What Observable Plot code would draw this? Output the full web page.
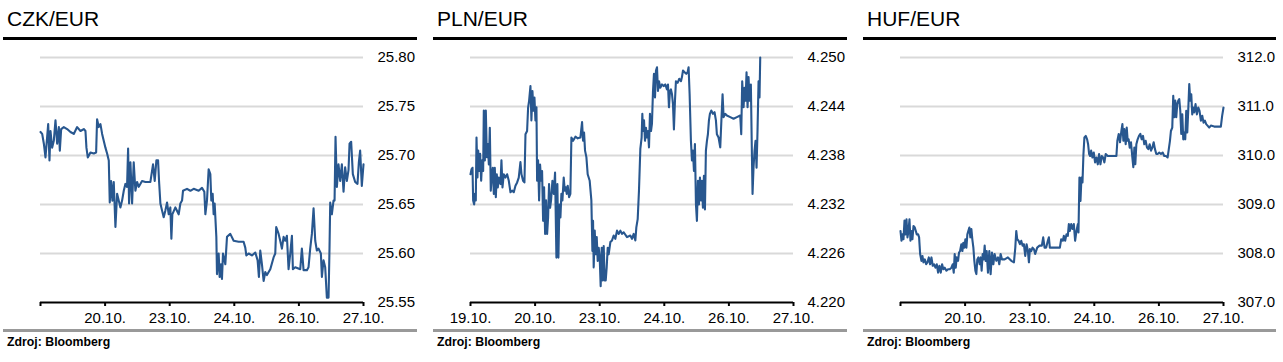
<!DOCTYPE html>
<html>
<head>
<meta charset="utf-8">
<script src="https://cdn.jsdelivr.net/npm/d3@7"></script>
<script src="https://cdn.jsdelivr.net/npm/@observablehq/plot@0.6"></script>
<style>
  html, body { margin: 0; padding: 0; background: #fff; }
  body { width: 1283px; height: 362px; position: relative; overflow: hidden;
         font-family: "Liberation Sans", Arial, Helvetica, sans-serif; color: #000; }
  .panel { position: absolute; top: 0; height: 362px; }
  .title { position: absolute; left: 4px; top: 8px; font-size: 21px; line-height: 21px; white-space: nowrap; }
  .topbar { position: absolute; left: 0; top: 37px; height: 3px; background: #000; }
  .chart { position: absolute; left: 0; top: 40px; }
  .botbar { position: absolute; left: 0; top: 328.5px; height: 3px; background: #999; }
  .source { position: absolute; left: 4px; top: 335px; font-size: 12.3px; font-weight: bold; line-height: 14px; white-space: nowrap; }
</style>
</head>
<body>
<script>
// ---- tick labels (trading days) ----
const dayLabelsFull = ["19.10.", "20.10.", "23.10.", "24.10.", "26.10.", "27.10."];
const dayLabelsNoFirst = ["", "20.10.", "23.10.", "24.10.", "26.10.", "27.10."];

// ---- CZK/EUR ----
const czkTicks = [25.55, 25.60, 25.65, 25.70, 25.75, 25.80];
const czkT = [0.000,0.026,0.052,0.077,0.103,0.119,0.139,0.155,0.180,0.206,0.232,0.258,0.284,0.299,0.320,0.361,0.412,0.464,0.515,0.567,0.619,0.670,0.696,0.711,0.732,0.773,0.825,0.861,0.876,0.902,0.928,0.954,0.979,1.005,1.031,1.057,1.072,1.093,1.113,1.134,1.160,1.186,1.211,1.237,1.263,1.289,1.314,1.340,1.356,1.371,1.392,1.418,1.443,1.469,1.495,1.521,1.572,1.624,1.701,1.742,1.768,1.794,1.820,1.835,1.856,1.881,1.907,1.933,1.959,1.985,2.010,2.026,2.041,2.088,2.139,2.165,2.191,2.206,2.268,2.320,2.371,2.448,2.500,2.536,2.552,2.577,2.603,2.629,2.644,2.665,2.680,2.696,2.722,2.732,2.758,2.773,2.794,2.809,2.825,2.861,2.887,2.938,2.990,3.067,3.144,3.170,3.186,3.222,3.273,3.325,3.361,3.381,3.402,3.428,3.454,3.479,3.505,3.557,3.608,3.634,3.649,3.686,3.711,3.737,3.763,3.789,3.814,3.840,3.866,3.892,3.907,3.943,4.021,4.046,4.072,4.124,4.149,4.175,4.201,4.227,4.253,4.278,4.304,4.340,4.356,4.381,4.407,4.433,4.459,4.474,4.485,4.510,4.536,4.552,4.567,4.588,4.613,4.639,4.665,4.691,4.716,4.742,4.768,4.784,4.809,4.835,4.871,4.907,4.928,4.948,4.974,5.000];
const czkV = [25.724,25.722,25.712,25.698,25.719,25.732,25.695,25.725,25.708,25.715,25.736,25.712,25.729,25.705,25.727,25.729,25.727,25.724,25.722,25.729,25.725,25.727,25.725,25.708,25.698,25.703,25.702,25.703,25.737,25.729,25.732,25.722,25.715,25.708,25.702,25.695,25.652,25.674,25.654,25.673,25.627,25.661,25.654,25.647,25.654,25.664,25.671,25.668,25.707,25.651,25.693,25.651,25.693,25.664,25.673,25.668,25.674,25.673,25.673,25.691,25.674,25.695,25.695,25.674,25.651,25.644,25.637,25.644,25.652,25.640,25.647,25.615,25.640,25.647,25.640,25.651,25.654,25.664,25.666,25.664,25.666,25.664,25.667,25.663,25.640,25.654,25.686,25.681,25.654,25.661,25.640,25.651,25.617,25.579,25.600,25.576,25.589,25.574,25.600,25.589,25.617,25.620,25.613,25.612,25.612,25.606,25.598,25.600,25.598,25.601,25.593,25.576,25.603,25.589,25.572,25.581,25.578,25.584,25.596,25.600,25.627,25.620,25.613,25.605,25.617,25.613,25.618,25.584,25.600,25.618,25.584,25.586,25.584,25.605,25.583,25.583,25.586,25.605,25.620,25.646,25.613,25.603,25.605,25.600,25.576,25.593,25.586,25.555,25.555,25.606,25.652,25.640,25.654,25.654,25.719,25.668,25.691,25.674,25.691,25.663,25.688,25.674,25.685,25.712,25.714,25.681,25.673,25.671,25.693,25.705,25.669,25.691];

// ---- PLN/EUR ----
const plnTicks = [4.220, 4.226, 4.232, 4.238, 4.244, 4.250];
const plnT = [0.000,0.015,0.031,0.041,0.057,0.067,0.082,0.093,0.108,0.119,0.134,0.149,0.165,0.180,0.196,0.206,0.222,0.237,0.253,0.268,0.284,0.299,0.314,0.330,0.345,0.361,0.376,0.392,0.407,0.423,0.438,0.464,0.479,0.495,0.515,0.541,0.567,0.593,0.619,0.644,0.670,0.696,0.722,0.747,0.773,0.789,0.814,0.835,0.851,0.876,0.892,0.907,0.928,0.943,0.959,0.974,0.990,1.005,1.021,1.031,1.046,1.062,1.077,1.093,1.108,1.124,1.139,1.155,1.170,1.186,1.201,1.216,1.232,1.247,1.268,1.289,1.309,1.330,1.345,1.361,1.376,1.392,1.407,1.423,1.443,1.459,1.474,1.490,1.505,1.526,1.546,1.562,1.588,1.624,1.660,1.701,1.727,1.742,1.758,1.773,1.794,1.814,1.845,1.871,1.887,1.897,1.907,1.923,1.938,1.954,1.969,1.985,2.000,2.015,2.031,2.046,2.062,2.077,2.093,2.108,2.124,2.139,2.165,2.191,2.216,2.242,2.268,2.294,2.320,2.345,2.371,2.423,2.474,2.500,2.526,2.552,2.567,2.588,2.608,2.629,2.649,2.660,2.670,2.686,2.701,2.716,2.732,2.747,2.763,2.778,2.794,2.809,2.825,2.840,2.856,2.871,2.887,2.902,2.918,2.938,2.964,2.990,3.015,3.041,3.057,3.072,3.088,3.103,3.119,3.134,3.149,3.165,3.180,3.206,3.232,3.258,3.273,3.289,3.314,3.340,3.361,3.376,3.392,3.412,3.428,3.443,3.459,3.474,3.490,3.505,3.521,3.536,3.552,3.567,3.582,3.598,3.613,3.629,3.644,3.660,3.675,3.691,3.706,3.727,3.753,3.778,3.799,3.814,3.840,3.866,3.887,3.902,3.918,3.943,3.969,4.021,4.072,4.124,4.175,4.191,4.206,4.227,4.242,4.258,4.273,4.289,4.304,4.320,4.340,4.356,4.366,4.381,4.397,4.412,4.428,4.443,4.459,4.474,4.485];
const plnV = [4.2357,4.2363,4.2365,4.2325,4.2320,4.2333,4.2325,4.2402,4.2353,4.2386,4.2361,4.2382,4.2349,4.2374,4.2361,4.2435,4.2374,4.2435,4.2378,4.2394,4.2369,4.2414,4.2337,4.2357,4.2365,4.2333,4.2365,4.2329,4.2357,4.2341,4.2353,4.2345,4.2374,4.2341,4.2357,4.2353,4.2357,4.2349,4.2335,4.2337,4.2335,4.2343,4.2347,4.2353,4.2372,4.2357,4.2349,4.2347,4.2406,4.2410,4.2439,4.2447,4.2465,4.2423,4.2459,4.2435,4.2451,4.2423,4.2439,4.2349,4.2374,4.2325,4.2369,4.2349,4.2361,4.2300,4.2341,4.2284,4.2325,4.2284,4.2304,4.2345,4.2316,4.2325,4.2349,4.2333,4.2359,4.2255,4.2345,4.2255,4.2320,4.2304,4.2333,4.2325,4.2353,4.2337,4.2341,4.2333,4.2343,4.2329,4.2333,4.2402,4.2398,4.2403,4.2401,4.2402,4.2421,4.2398,4.2408,4.2386,4.2378,4.2357,4.2349,4.2325,4.2263,4.2300,4.2243,4.2288,4.2259,4.2280,4.2251,4.2267,4.2255,4.2220,4.2267,4.2227,4.2269,4.2227,4.2227,4.2243,4.2267,4.2259,4.2274,4.2276,4.2282,4.2278,4.2288,4.2284,4.2288,4.2284,4.2286,4.2280,4.2282,4.2278,4.2284,4.2276,4.2292,4.2302,4.2337,4.2388,4.2402,4.2431,4.2410,4.2423,4.2398,4.2414,4.2402,4.2410,4.2390,4.2431,4.2410,4.2419,4.2459,4.2480,4.2451,4.2484,4.2488,4.2459,4.2471,4.2463,4.2467,4.2465,4.2467,4.2461,4.2467,4.2439,4.2459,4.2461,4.2455,4.2443,4.2412,4.2447,4.2471,4.2469,4.2474,4.2471,4.2476,4.2484,4.2482,4.2480,4.2482,4.2488,4.2455,4.2398,4.2374,4.2386,4.2361,4.2394,4.2320,4.2300,4.2349,4.2320,4.2353,4.2325,4.2349,4.2316,4.2355,4.2314,4.2386,4.2398,4.2406,4.2423,4.2431,4.2435,4.2431,4.2433,4.2423,4.2406,4.2402,4.2390,4.2429,4.2455,4.2427,4.2431,4.2429,4.2427,4.2425,4.2427,4.2429,4.2406,4.2471,4.2439,4.2463,4.2447,4.2482,4.2439,4.2476,4.2447,4.2467,4.2382,4.2333,4.2365,4.2386,4.2398,4.2365,4.2410,4.2471,4.2451,4.2500];

// ---- HUF/EUR ----
const hufTicks = [307, 308, 309, 310, 311, 312];
const hufT = [0.000,0.015,0.031,0.046,0.062,0.077,0.093,0.108,0.124,0.139,0.154,0.170,0.185,0.201,0.221,0.237,0.252,0.273,0.288,0.304,0.324,0.340,0.355,0.376,0.397,0.417,0.438,0.458,0.479,0.499,0.520,0.541,0.561,0.582,0.602,0.623,0.644,0.664,0.685,0.711,0.736,0.762,0.788,0.808,0.824,0.839,0.855,0.870,0.891,0.906,0.922,0.942,0.958,0.973,0.989,1.004,1.020,1.035,1.050,1.066,1.081,1.097,1.112,1.128,1.143,1.159,1.174,1.189,1.205,1.226,1.241,1.256,1.272,1.287,1.303,1.318,1.334,1.354,1.375,1.395,1.416,1.437,1.457,1.483,1.509,1.529,1.550,1.571,1.612,1.663,1.715,1.756,1.777,1.792,1.807,1.828,1.849,1.869,1.890,1.910,1.931,1.952,1.972,1.988,2.003,2.024,2.044,2.065,2.085,2.116,2.152,2.188,2.209,2.230,2.255,2.281,2.297,2.312,2.358,2.436,2.467,2.487,2.513,2.528,2.549,2.569,2.590,2.606,2.621,2.642,2.662,2.683,2.703,2.724,2.745,2.755,2.770,2.786,2.801,2.817,2.832,2.847,2.868,2.889,2.904,2.920,2.935,2.951,2.971,2.992,3.012,3.033,3.054,3.074,3.095,3.115,3.136,3.156,3.177,3.208,3.260,3.311,3.342,3.357,3.378,3.398,3.419,3.435,3.450,3.465,3.486,3.502,3.517,3.532,3.548,3.568,3.589,3.604,3.620,3.635,3.651,3.671,3.692,3.713,3.733,3.754,3.774,3.795,3.816,3.836,3.857,3.878,3.898,3.919,3.939,3.960,3.980,4.006,4.032,4.058,4.083,4.109,4.135,4.150,4.171,4.186,4.207,4.222,4.238,4.253,4.269,4.284,4.300,4.315,4.331,4.346,4.362,4.377,4.392,4.408,4.423,4.439,4.454,4.470,4.485,4.501,4.516,4.531,4.547,4.567,4.588,4.609,4.629,4.650,4.671,4.691,4.712,4.732,4.753,4.779,4.804,4.856,4.907,4.959,4.979,5.000];
const hufV = [308.46,308.26,308.39,308.29,308.67,308.39,308.70,308.33,308.46,308.70,308.26,308.46,308.29,308.56,308.53,308.46,308.39,308.39,308.33,307.99,307.85,307.95,307.82,307.88,307.78,307.82,307.92,307.78,307.92,307.75,307.78,307.71,307.78,307.61,307.75,307.61,307.78,307.68,307.71,307.65,307.68,307.68,307.71,307.78,307.61,307.99,307.71,307.92,307.85,308.02,308.05,308.19,308.05,308.22,308.12,308.29,308.12,308.39,308.46,308.53,308.33,308.50,308.29,308.12,307.85,307.65,307.58,307.88,307.92,307.78,307.92,307.65,307.99,307.88,308.16,307.85,308.05,307.61,308.05,307.58,308.02,307.78,307.99,307.85,307.92,307.78,307.99,307.88,307.88,307.92,307.85,307.82,308.12,308.46,308.29,308.26,308.19,308.26,308.16,308.19,307.95,308.19,308.05,307.82,308.09,308.05,308.12,308.09,307.99,308.12,308.16,308.16,308.33,308.12,308.12,308.26,308.33,308.12,308.12,308.12,308.12,308.29,308.26,308.36,308.26,308.39,308.36,308.60,308.46,308.60,308.50,308.60,308.26,308.46,308.60,308.43,309.55,309.07,309.55,309.45,310.03,310.37,310.40,310.33,310.23,310.03,309.99,310.10,309.96,310.06,309.86,309.96,309.82,310.03,309.82,309.99,309.96,309.86,310.03,309.99,309.99,309.99,309.99,310.30,310.44,310.27,310.50,310.64,310.30,310.54,310.23,310.57,310.30,310.33,310.16,310.27,309.96,309.76,310.16,309.82,310.23,310.33,310.40,310.44,310.33,310.40,310.23,310.30,310.16,310.13,310.23,310.10,310.16,310.27,310.13,310.03,310.03,310.06,310.03,310.06,309.99,309.99,309.96,310.10,310.30,310.50,310.57,311.22,310.78,311.12,310.78,311.05,311.12,311.15,310.91,310.44,310.84,310.33,310.47,310.33,310.91,310.47,310.91,311.46,311.12,311.25,310.84,310.98,310.88,311.05,310.84,310.98,310.91,310.71,310.81,310.67,310.71,310.64,310.61,310.57,310.61,310.59,310.59,310.59,310.81,310.98];

const panels = [
  {title: "CZK/EUR", left: 3, width: 414, t: czkT, v: czkV, ticks: czkTicks, fmt: d3.format(".2f"), days: dayLabelsNoFirst},
  {title: "PLN/EUR", left: 433, width: 414, t: plnT, v: plnV, ticks: plnTicks, fmt: d3.format(".3f"), days: dayLabelsFull},
  {title: "HUF/EUR", left: 863, width: 413, t: hufT, v: hufV, ticks: hufTicks, fmt: d3.format(".1f"), days: dayLabelsNoFirst}
];

const lineColor = "#28578f";
const font = "'Liberation Sans', Arial, Helvetica, sans-serif";

for (const p of panels) {
  const div = document.createElement("div");
  div.className = "panel";
  div.style.left = p.left + "px";
  div.style.width = p.width + "px";

  const title = document.createElement("div");
  title.className = "title";
  title.textContent = p.title;
  div.appendChild(title);

  const top = document.createElement("div");
  top.className = "topbar";
  top.style.width = p.width + "px";
  div.appendChild(top);

  const data = p.t.map((t, i) => ({t, v: p.v[i]}));
  const ymin = p.ticks[0], ymax = p.ticks[p.ticks.length - 1];

  const chart = Plot.plot({
    width: p.width,
    height: 288,
    marginLeft: 37,
    marginRight: p.width - 360,
    marginTop: 17,
    marginBottom: 26,
    style: {fontFamily: font, fontSize: "15px", background: "transparent", color: "#000", overflow: "visible"},
    x: {domain: [0, 5], axis: null},
    y: {domain: [ymin, ymax], axis: null},
    marks: [
      Plot.gridY(p.ticks.slice(1), {stroke: "#d9d9d9", strokeWidth: 2, strokeOpacity: 1}),
      Plot.axisY(p.ticks, {anchor: "right", label: null, tickSize: 0, tickPadding: 14, tickFormat: p.fmt, fontSize: 15, textAnchor: "start"}),
      Plot.line(data, {x: "t", y: "v", stroke: lineColor, strokeWidth: 2.1}),
      Plot.ruleY([ymin], {stroke: "#000", strokeWidth: 2}),
      Plot.axisX([0, 1, 2, 3, 4, 5], {label: null, tickSize: 4, tickPadding: 6, strokeWidth: 2, tickFormat: i => p.days[i], fontSize: 15})
    ]
  });
  chart.classList.add("chart");
  div.appendChild(chart);

  const bot = document.createElement("div");
  bot.className = "botbar";
  bot.style.width = p.width + "px";
  div.appendChild(bot);

  const src = document.createElement("div");
  src.className = "source";
  src.textContent = "Zdroj: Bloomberg";
  div.appendChild(src);

  document.body.appendChild(div);
}
</script>
</body>
</html>
